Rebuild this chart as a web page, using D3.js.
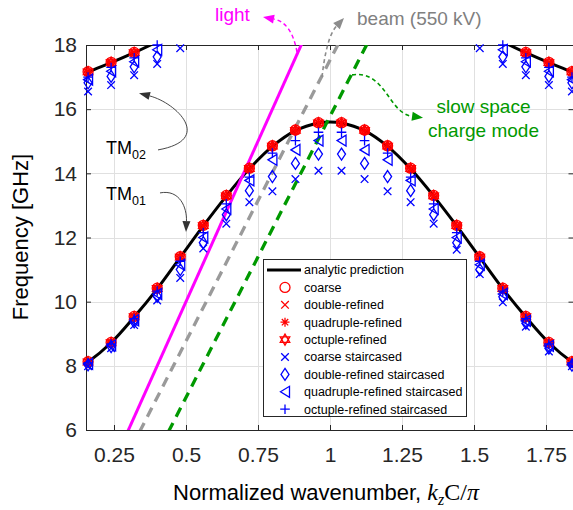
<!DOCTYPE html>
<html><head><meta charset="utf-8">
<script src="https://cdn.jsdelivr.net/npm/d3@7"></script>
<style>
body{margin:0;background:#fff;}
svg{display:block;font-family:"Liberation Sans",Arial,sans-serif;}
</style>
</head><body>
<svg id="chart" width="573" height="510"></svg>
<script>
// ---------------- DATA ----------------
const xTicks = [0.25, 0.5, 0.75, 1, 1.25, 1.5, 1.75];
const xTickLabels = ["0.25", "0.5", "0.75", "1", "1.25", "1.5", "1.75"];
const yTicks = [6, 8, 10, 12, 14, 16, 18];
const yTickLabels = ["6", "8", "10", "12", "14", "16", "18"];

// normalized wavenumber of the simulated points
const kMarkers = [0.16,0.24,0.32,0.40,0.48,0.56,0.64,0.72,0.80,0.88,0.96,1.04,1.12,1.20,1.28,1.36,1.44,1.52,1.60,1.68,1.76,1.84];

// analytic prediction (TM01 band)
const analyticK01 = [0.1528,0.16,0.24,0.32,0.40,0.48,0.56,0.64,0.72,0.80,0.88,0.96,1.00,1.04,1.12,1.20,1.28,1.36,1.44,1.52,1.60,1.68,1.76,1.84,1.8472];
const analyticF01 = [8.08,8.12,8.72,9.52,10.40,11.38,12.36,13.29,14.14,14.84,15.33,15.57,15.60,15.57,15.33,14.84,14.14,13.29,12.36,11.38,10.40,9.52,8.72,8.12,8.08];
// analytic prediction (TM02 band, two visible pieces)
const analyticK02a = [0.1528,0.16,0.24,0.32,0.40,0.48];
const analyticF02a = [17.13,17.16,17.45,17.76,18.10,18.45];
const analyticK02b = [1.52,1.60,1.68,1.76,1.84,1.8472];
const analyticF02b = [18.45,18.10,17.76,17.45,17.16,17.13];

// red: conformal meshes, TM01
const coarse01    = [8.13,8.73,9.54,10.42,11.40,12.38,13.31,14.16,14.86,15.35,15.58,15.58,15.35,14.86,14.16,13.31,12.38,11.40,10.42,9.54,8.73,8.13];
const double01    = [8.11,8.71,9.52,10.40,11.38,12.36,13.29,14.14,14.84,15.33,15.56,15.56,15.33,14.84,14.14,13.29,12.36,11.38,10.40,9.52,8.71,8.11];
const quadruple01 = [8.12,8.72,9.52,10.41,11.39,12.37,13.30,14.15,14.85,15.34,15.57,15.57,15.34,14.85,14.15,13.30,12.37,11.39,10.41,9.52,8.72,8.12];
const octuple01   = [8.12,8.72,9.53,10.41,11.39,12.37,13.30,14.15,14.85,15.34,15.57,15.57,15.34,14.85,14.15,13.30,12.37,11.39,10.41,9.53,8.72,8.12];
// red: TM02 (null = above the plotted range)
const coarse02    = [17.17,17.46,17.77,null,null,null,null,null,null,null,null,null,null,null,null,null,null,null,null,17.77,17.46,17.17];
const double02    = [17.15,17.44,17.75,null,null,null,null,null,null,null,null,null,null,null,null,null,null,null,null,17.75,17.44,17.15];
const quadruple02 = [17.16,17.45,17.76,null,null,null,null,null,null,null,null,null,null,null,null,null,null,null,null,17.76,17.45,17.16];
const octuple02   = [17.16,17.45,17.76,null,null,null,null,null,null,null,null,null,null,null,null,null,null,null,null,17.76,17.45,17.16];

// blue: staircased meshes, TM01
const coarseSt01    = [7.99,8.55,9.27,10.04,10.74,11.66,12.43,13.10,13.44,13.82,14.08,14.08,13.82,13.44,13.10,12.43,11.62,10.86,9.98,9.22,8.45,7.99];
const doubleSt01    = [8.03,8.60,9.37,10.17,11.00,11.84,12.71,13.46,13.90,14.31,14.60,14.60,14.31,13.90,13.46,12.71,11.84,11.00,10.15,9.33,8.55,8.02];
const quadrupleSt01 = [8.06,8.64,9.42,10.24,11.15,12.00,12.89,13.78,14.42,14.73,15.02,15.02,14.73,14.42,13.78,12.89,12.00,11.15,10.24,9.40,8.62,8.05];
const octupleSt01   = [8.09,8.68,9.47,10.33,11.26,12.15,13.05,13.88,14.63,15.02,15.28,15.28,15.02,14.63,13.88,13.05,12.15,11.26,10.33,9.47,8.68,8.09];
// blue: TM02
const coarseSt02    = [16.55,16.75,17.06,17.41,17.90,null,null,null,null,null,null,null,null,null,null,null,null,17.90,17.41,17.06,16.75,16.55];
const doubleSt02    = [16.82,17.02,17.32,17.63,null,null,null,null,null,null,null,null,null,null,null,null,null,null,17.63,17.32,17.02,16.82];
const quadrupleSt02 = [16.92,17.18,17.48,17.85,null,null,null,null,null,null,null,null,null,null,null,null,null,null,17.85,17.48,17.18,16.92];
const octupleSt02   = [17.00,17.30,17.60,18.00,null,null,null,null,null,null,null,null,null,null,null,null,null,null,18.00,17.60,17.30,17.00];

// dispersion lines (end points, clipped to the axes)
const lightK = [0.25, 0.95], lightF = [5, 19];
const beamK  = [0.285, 1.084], beamF = [5, 19];
const slowK  = [0.385, 1.184], slowF = [5, 19];

const legendLabels = ["analytic prediction","coarse","double-refined","quadruple-refined","octuple-refined",
  "coarse staircased","double-refined staircased","quadruple-refined staircased","octuple-refined staircased"];

// ---------------- LAYOUT ----------------
const L = 86, R = 574, T = 45, B = 430;
const axisCol = "#262626";
const RED = "#FF0000", BLUE = "#0000FF";
const MAG = "#FF00FF", GRAY = "#9a9a9a", GREEN = "#009900";

const svg = d3.select("#chart");
const x = d3.scaleLinear().domain([0.1528, 1.8472]).range([L, R]);
const y = d3.scaleLinear().domain([6, 18]).range([B, T]);

svg.append("defs").append("clipPath").attr("id","plotclip")
  .append("rect").attr("x",L).attr("y",T).attr("width",R-L).attr("height",B-T);

// grid
const grid = svg.append("g");
grid.selectAll(".gx").data(xTicks).join("line")
  .attr("x1",d=>Math.round(x(d))+0.5).attr("x2",d=>Math.round(x(d))+0.5)
  .attr("y1",T).attr("y2",B).attr("stroke","#e0e0e0").attr("stroke-width",1);
grid.selectAll(".gy").data(yTicks).join("line")
  .attr("y1",d=>Math.round(y(d))+0.5).attr("y2",d=>Math.round(y(d))+0.5)
  .attr("x1",L).attr("x2",R).attr("stroke","#e0e0e0").attr("stroke-width",1);

// axes
function styleAxis(g){
  g.selectAll("path.domain").attr("stroke",axisCol).attr("stroke-width",1);
  g.selectAll(".tick line").attr("stroke",axisCol).attr("stroke-width",1);
  g.selectAll(".tick text").attr("fill",axisCol).attr("font-size",21)
   .attr("font-family",'"Liberation Sans",Arial,sans-serif');
}
svg.append("g").attr("transform",`translate(0,${B})`)
  .call(d3.axisBottom(x).tickValues(xTicks).tickFormat((d,i)=>xTickLabels[i]).tickSize(-5).tickSizeOuter(0).tickPadding(17))
  .call(styleAxis);
svg.append("g").attr("transform",`translate(0,${T})`)
  .call(d3.axisTop(x).tickValues(xTicks).tickFormat("").tickSize(-5).tickSizeOuter(0))
  .call(styleAxis);
svg.append("g").attr("transform",`translate(${L},0)`)
  .call(d3.axisLeft(y).tickValues(yTicks).tickFormat((d,i)=>yTickLabels[i]).tickSize(-5).tickSizeOuter(0).tickPadding(9))
  .call(styleAxis);
svg.append("g").attr("transform",`translate(${R-0.5},0)`)
  .call(d3.axisRight(y).tickValues(yTicks).tickFormat("").tickSize(-5).tickSizeOuter(0))
  .call(styleAxis);

// plot content
const plot = svg.append("g").attr("clip-path","url(#plotclip)");
const lineGen = d3.line().x(d=>x(d[0])).y(d=>y(d[1])).curve(d3.curveCatmullRom.alpha(0.5));
const straight = d3.line().x(d=>x(d[0])).y(d=>y(d[1]));

function drawCurve(ks, fs){
  plot.append("path").datum(ks.map((k,i)=>[k,fs[i]]))
    .attr("d",lineGen).attr("fill","none").attr("stroke","#000").attr("stroke-width",3);
}
drawCurve(analyticK01, analyticF01);
drawCurve(analyticK02a, analyticF02a);
drawCurve(analyticK02b, analyticF02b);

plot.append("path").datum(lightK.map((k,i)=>[k,lightF[i]])).attr("d",straight)
  .attr("fill","none").attr("stroke",MAG).attr("stroke-width",3);
plot.append("path").datum(beamK.map((k,i)=>[k,beamF[i]])).attr("d",straight)
  .attr("fill","none").attr("stroke",GRAY).attr("stroke-width",3.3).attr("stroke-dasharray","10,7");
plot.append("path").datum(slowK.map((k,i)=>[k,slowF[i]])).attr("d",straight)
  .attr("fill","none").attr("stroke",GREEN).attr("stroke-width",3.3).attr("stroke-dasharray","10,7");

// marker shapes
const shapes = {
  circle: () => { const r=5; return `M${r},0A${r},${r} 0 1,1 ${-r},0A${r},${r} 0 1,1 ${r},0Z`; },
  cross: () => { const s=3.8; return `M${-s},${-s}L${s},${s}M${-s},${s}L${s},${-s}`; },
  star: () => { const s=4.5, d=s*0.7071; return `M${-s},0L${s},0M0,${-s}L0,${s}M${-d},${-d}L${d},${d}M${-d},${d}L${d},${-d}`; },
  hexagram: () => {
    const r=5.5; const p=a=>[r*Math.cos(a), r*Math.sin(a)];
    const t1=[-90,30,150].map(a=>p(a*Math.PI/180)), t2=[90,210,330].map(a=>p(a*Math.PI/180));
    return "M"+t1.join("L")+"Z"+"M"+t2.join("L")+"Z";
  },
  diamond: () => { const w=4, h=6; return `M0,${-h}L${w},0L0,${h}L${-w},0Z`; },
  triLeft: () => { const w=4.5, h=5.5; return `M${-w},0L${w},${-h}L${w},${h}Z`; },
  plus: () => { const s=4.8; return `M${-s},0L${s},0M0,${-s}L0,${s}`; }
};

function drawMarkers(vals, shape, color){
  const pts = kMarkers.map((k,i)=>[k, vals[i]]).filter(d=>d[1]!==null);
  svg.append("g").selectAll("path").data(pts).join("path")
    .attr("transform",d=>`translate(${x(d[0])},${y(d[1])})`)
    .attr("d",shapes[shape]()).attr("fill","none").attr("stroke",color).attr("stroke-width",1.3);
}
const series = [
  [coarse01, coarse02, "circle", RED],
  [double01, double02, "cross", RED],
  [quadruple01, quadruple02, "star", RED],
  [octuple01, octuple02, "hexagram", RED],
  [coarseSt01, coarseSt02, "cross", BLUE],
  [doubleSt01, doubleSt02, "diamond", BLUE],
  [quadrupleSt01, quadrupleSt02, "triLeft", BLUE],
  [octupleSt01, octupleSt02, "plus", BLUE]
];
series.forEach(s=>{ drawMarkers(s[0], s[2], s[3]); drawMarkers(s[1], s[2], s[3]); });

// ---------------- ANNOTATIONS ----------------
function arrow(ptsData, color, width, dash, headLen, headW){
  const p = ptsData.map(d=>[x(d[0]), y(d[1])]);
  const tip = p[3];
  let dx = tip[0]-p[2][0], dy = tip[1]-p[2][1];
  const n = Math.hypot(dx,dy); dx/=n; dy/=n;
  const base = [tip[0]-dx*headLen, tip[1]-dy*headLen];
  const px = -dy, py = dx;
  svg.append("path")
    .attr("d",`M${p[0][0]},${p[0][1]}C${p[1][0]},${p[1][1]} ${p[2][0]},${p[2][1]} ${base[0]},${base[1]}`)
    .attr("fill","none").attr("stroke",color).attr("stroke-width",width)
    .attr("stroke-dasharray",dash||null);
  svg.append("path")
    .attr("d",`M${tip[0]},${tip[1]}L${base[0]+px*headW/2},${base[1]+py*headW/2}L${base[0]-px*headW/2},${base[1]-py*headW/2}Z`)
    .attr("fill",color).attr("stroke","none");
}
arrow([[0.8854,17.78],[0.8715,18.47],[0.8403,18.75],[0.7674,18.87]], MAG, 1.4, "4,3", 11, 9);
arrow([[0.9722,17.00],[0.9826,17.84],[0.9999,18.37],[1.0486,18.84]], "#8c8c8c", 1.6, "4,3", 11, 9);
arrow([[1.0764,17.07],[1.1945,17.22],[1.2014,15.88],[1.3229,15.73]], GREEN, 1.6, "4,3", 11, 9);
arrow([[0.4028,14.73],[0.5972,15.04],[0.4688,16.19],[0.3368,16.50]], "#333", 0.9, null, 11, 8);
arrow([[0.4097,13.39],[0.4792,13.51],[0.5035,12.92],[0.5000,12.17]], "#333", 0.9, null, 11, 8);

function label(k, f, txt, color, size, anchor){
  return svg.append("text").attr("x",x(k)).attr("y",y(f)).attr("fill",color)
    .attr("font-size",size).attr("text-anchor",anchor||"start").text(txt);
}
label(0.6007, 18.75, "light", MAG, 19);
label(1.0938, 18.62, "beam (550 kV)", "#808080", 19);
label(1.533, 15.88, "slow space", GREEN, 19, "middle");
label(1.533, 15.13, "charge mode", GREEN, 19, "middle");

function tmLabel(k, f, sub){
  const t = svg.append("text").attr("x",x(k)).attr("y",y(f)).attr("fill","#000").attr("font-size",18);
  t.append("tspan").text("TM");
  t.append("tspan").attr("dy",5).attr("font-size",12.5).text(sub);
}
tmLabel(0.2222, 14.60, "02");
tmLabel(0.2222, 13.17, "01");

// axis titles
svg.append("text").attr("transform",`translate(28,237) rotate(-90)`).attr("text-anchor","middle")
  .attr("font-size",22).attr("fill","#000").text("Frequency [GHz]");
const serif = '"Liberation Serif","DejaVu Serif",serif';
const xl = svg.append("text").attr("x",326).attr("y",500).attr("text-anchor","middle")
  .attr("font-size",22).attr("fill","#000");
xl.append("tspan").text("Normalized wavenumber, ");
xl.append("tspan").attr("font-family",serif).attr("font-style","italic").attr("font-size",24).text("k");
xl.append("tspan").attr("font-family",serif).attr("font-style","italic").attr("font-size",16).attr("dy",5).text("z");
xl.append("tspan").attr("font-family",serif).attr("font-size",24).attr("dy",-5).text("C/");
xl.append("tspan").attr("font-family",serif).attr("font-style","italic").attr("font-size",24).text("π");

// ---------------- LEGEND ----------------
const lg = svg.append("g");
lg.append("rect").attr("x",263.5).attr("y",259.5).attr("width",203).attr("height",157)
  .attr("fill","#fff").attr("stroke",axisCol).attr("stroke-width",1);
const legendShapes = [null,["circle",RED],["cross",RED],["star",RED],["hexagram",RED],
  ["cross",BLUE],["diamond",BLUE],["triLeft",BLUE],["plus",BLUE]];
legendLabels.forEach((lab,i)=>{
  const yy = 270 + i*17.4;
  if(i===0){
    lg.append("line").attr("x1",267).attr("x2",301).attr("y1",yy).attr("y2",yy)
      .attr("stroke","#000").attr("stroke-width",3);
  } else {
    lg.append("path").attr("transform",`translate(285,${yy})`).attr("d",shapes[legendShapes[i][0]]())
      .attr("fill","none").attr("stroke",legendShapes[i][1]).attr("stroke-width",1.3);
  }
  lg.append("text").attr("x",304).attr("y",yy).attr("dy","0.35em").attr("font-size",12.5)
    .attr("fill","#000").text(lab);
});
</script>
</body></html>
